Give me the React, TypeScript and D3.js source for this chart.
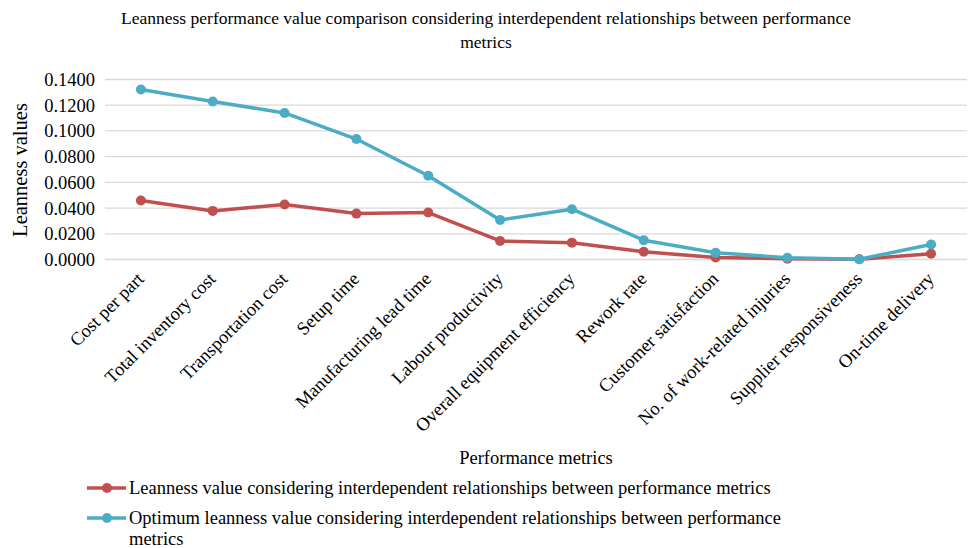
import React from 'react';
import * as d3 from 'd3';

const categories = [
  'Cost per part',
  'Total inventory cost',
  'Transportation cost',
  'Setup time',
  'Manufacturing lead time',
  'Labour productivity',
  'Overall equipment efficiency',
  'Rework rate',
  'Customer satisfaction',
  'No. of work-related injuries',
  'Supplier responsiveness',
  'On-time delivery',
];

const leanness = [0.0459, 0.0378, 0.0428, 0.0357, 0.0365, 0.0144, 0.0131, 0.0060, 0.0016, 0.0006, 0.0002, 0.0045];
const optimum = [0.1322, 0.1229, 0.1140, 0.0937, 0.0651, 0.0308, 0.0391, 0.0150, 0.0053, 0.0014, 0.0002, 0.0117];

const yTicks = [0, 0.02, 0.04, 0.06, 0.08, 0.1, 0.12, 0.14];

// legend texts, the second one wraps onto a third line
const seriesNames = [
  ['Leanness value considering interdependent relationships between performance metrics'],
  ['Optimum leanness value considering interdependent relationships between performance', 'metrics'],
];

const W = 971;
const H = 548;
const FONT = '"Liberation Serif", "Times New Roman", serif';
const RED = '#C0504D';
const BLUE = '#4BACC6';

const App: React.FC = () => {
  const x = d3.scaleBand<string>().domain(categories).range([105, 967]);
  const y = d3.scaleLinear().domain([0, 0.14]).range([259.5, 79.5]);
  const cx = (i: number) => (x(categories[i]) ?? 0) + x.bandwidth() / 2;

  const line = d3.line<number>()
    .x((_, i) => cx(i))
    .y(d => y(d));

  const series = [
    { values: leanness, color: RED },
    { values: optimum, color: BLUE },
  ];

  return (
    <svg width={W} height={H} style={{ position: 'absolute', left: 0, top: 0, background: '#fff' }} fontFamily={FONT}>
      {/* title */}
      <text x={486} y={24} textAnchor="middle" fontSize={17.5} fill="#000">
        Leanness performance value comparison considering interdependent relationships between performance
      </text>
      <text x={486} y={48} textAnchor="middle" fontSize={17.5} fill="#000">metrics</text>

      {/* grid + y ticks */}
      {yTicks.map(t => (
        <g key={t}>
          <line x1={105} x2={967} y1={y(t)} y2={y(t)} stroke="#d9d9d9" strokeWidth={1.3} />
          <text x={95} y={y(t)} dy="0.35em" textAnchor="end" fontSize={18.5} fill="#000">
            {d3.format('.4f')(t)}
          </text>
        </g>
      ))}

      {/* y axis title */}
      <text transform="translate(27,170) rotate(-90)" textAnchor="middle" fontSize={20.5} fill="#000">
        Leanness values
      </text>

      {/* x tick labels */}
      {categories.map((c, i) => (
        <text key={c} transform={`translate(${cx(i) + 4},${280}) rotate(-45)`} textAnchor="end" fontSize={18.5} fill="#000">
          {c}
        </text>
      ))}

      <text x={536} y={464} textAnchor="middle" fontSize={18.5} fill="#000">Performance metrics</text>

      {/* series */}
      {series.map((s, k) => (
        <g key={k}>
          <path d={line(s.values) ?? ''} fill="none" stroke={s.color} strokeWidth={3.5} strokeLinejoin="round" />
          {s.values.map((v, i) => (
            <circle key={i} cx={cx(i)} cy={y(v)} r={5} fill={s.color} />
          ))}
        </g>
      ))}

      {/* legend */}
      {series.map((s, k) => {
        const ly = 488 + k * 30;
        return (
          <g key={k}>
            <line x1={87} x2={126} y1={ly} y2={ly} stroke={s.color} strokeWidth={3.5} />
            <circle cx={107} cy={ly} r={5} fill={s.color} />
            {seriesNames[k].map((t, j) => (
              <text key={j} x={129} y={ly + j * 21} dy="0.35em" fontSize={18.5} fill="#000">{t}</text>
            ))}
          </g>
        );
      })}
    </svg>
  );
};

export default App;
